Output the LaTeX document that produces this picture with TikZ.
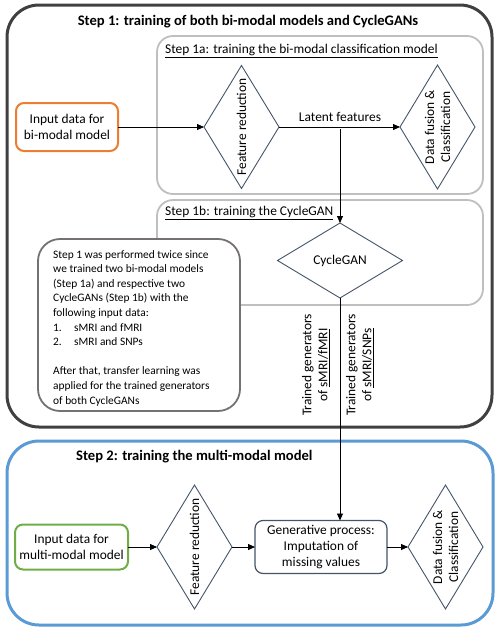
\documentclass[tikz,border=0pt]{standalone}
\usepackage{fontspec}
\setmainfont{Carlito}
\usetikzlibrary{shapes.geometric,arrows.meta}
\definecolor{darkbox}{HTML}{404040}
\definecolor{lightbox}{HTML}{BFBFBF}
\definecolor{notebox}{HTML}{767171}
\definecolor{orangeb}{HTML}{ED7D31}
\definecolor{greenb}{HTML}{70AD47}
\definecolor{blueb}{HTML}{5B9BD5}
\definecolor{slate}{HTML}{44546A}
\tikzset{
  container/.style={draw, rounded corners=#1, inner sep=0, outer sep=0},
  dia/.style={draw=slate, line width=0.9pt, diamond, inner sep=0, outer sep=0},
  inbox/.style={draw, line width=2pt, rounded corners=8, align=center, inner sep=0, outer sep=0},
  arr/.style={line width=0.8pt, -{Triangle[length=7pt,width=6pt]}},
  txt/.style={font=\fontsize{13.4}{16}\selectfont, align=center, inner sep=0},
  ttl/.style={font=\fontsize{14.6}{17}\selectfont\bfseries, inner sep=0},
}
\begin{document}
\begin{tikzpicture}[x=1pt,y=-1pt]
\useasboundingbox (0,0) rectangle (498,633);
% containers
\node[container=32, draw=darkbox, line width=3pt, minimum width=485, minimum height=422] (step1) at (249.5,216) {};
\node[container=16, draw=lightbox, line width=1.8pt, minimum width=326, minimum height=158] (step1a) at (320,115) {};
\node[container=16, draw=lightbox, line width=1.8pt, minimum width=326, minimum height=105] (step1b) at (320,252.5) {};
\node[container=32, draw=blueb, line width=3pt, minimum width=486, minimum height=184] (step2) at (250,533) {};
% titles
\node[ttl] (t1) at (248,22) {Step 1: training of both bi-modal models and CycleGANs};
\node[txt, anchor=west] (t1a) at (165,51) {\underline{Step 1a: training the bi-modal classification model}};
\node[txt, anchor=west] (t1b) at (165,213) {\underline{Step 1b: training the CycleGAN}};
\node[ttl, anchor=west] (t2) at (76,457) {Step 2: training the multi-modal model};
% step 1 nodes
\node[inbox, draw=orangeb, minimum width=102, minimum height=48, txt] (in1) at (67,127) {Input data for\\bi-modal model};
\node[dia, minimum width=75, minimum height=123] (fr1) at (241.5,127) {};
\node[txt, rotate=90] (fr1t) at (fr1) {Feature reduction};
\node[dia, minimum width=75, minimum height=124] (df1) at (437.5,127) {};
\node[txt, rotate=90] (df1t) at (df1) {Data fusion \&\\Classification};
\node[txt, anchor=south] (lat) at (340,122) {Latent features};
\coordinate (lf) at (340,129);
\node[dia, minimum width=125, minimum height=75] (cg) at (340,260.5) {};
\node[txt] (cgt) at (cg) {CycleGAN};
% note
\node[container=22, draw=notebox, line width=1.8pt, fill=white, minimum width=202, minimum height=172] (note) at (139,325) {};
\node[anchor=north west, inner sep=0, align=left, font=\fontsize{11.4}{14.6}\selectfont] (notet) at (53,250) {Step 1 was performed twice since\\
we trained two bi-modal models\\
(Step 1a) and respective two\\
CycleGANs (Step 1b) with the\\
following input data:\\
\makebox[21pt][l]{1.}sMRI and fMRI\\
\makebox[21pt][l]{2.}sMRI and SNPs\\[14.6pt]
After that, transfer learning was\\
applied for the trained generators\\
of both CycleGANs};
% generator labels
\node[txt, rotate=90] (g1) at (316,365) {Trained generators\\of \underline{sMRI/fMRI}};
\node[txt, rotate=90] (g2) at (360,365) {Trained generators\\of \underline{sMRI/SNPs}};
% step 2 nodes
\node[inbox, draw=greenb, minimum width=113, minimum height=45, txt] (in2) at (71.5,547) {Input data for\\multi-modal model};
\node[dia, minimum width=75, minimum height=124] (fr2) at (194.5,547) {};
\node[txt, rotate=90] (fr2t) at (fr2) {Feature reduction};
\node[inbox, draw=slate, line width=1.2pt, minimum width=132, minimum height=53, txt] (imp) at (321,547) {Generative process:\\Imputation of\\missing values};
\node[dia, minimum width=75, minimum height=124] (df2) at (445.5,547) {};
\node[txt, rotate=90] (df2t) at (df2) {Data fusion \&\\Classification};
\coordinate (impin) at (340,520.5);
% connectors
\draw[arr] (in1.east) -- (fr1.west);
\draw[arr] (fr1.east) -- (df1.west);
\draw[arr] (lf) -- (cg.north);
\draw[arr] (cg.south) -- (impin);
\draw[arr] (in2.east) -- (fr2.west);
\draw[arr] (fr2.east) -- (imp.west);
\draw[arr] (imp.east) -- (df2.west);
\end{tikzpicture}
\end{document}
